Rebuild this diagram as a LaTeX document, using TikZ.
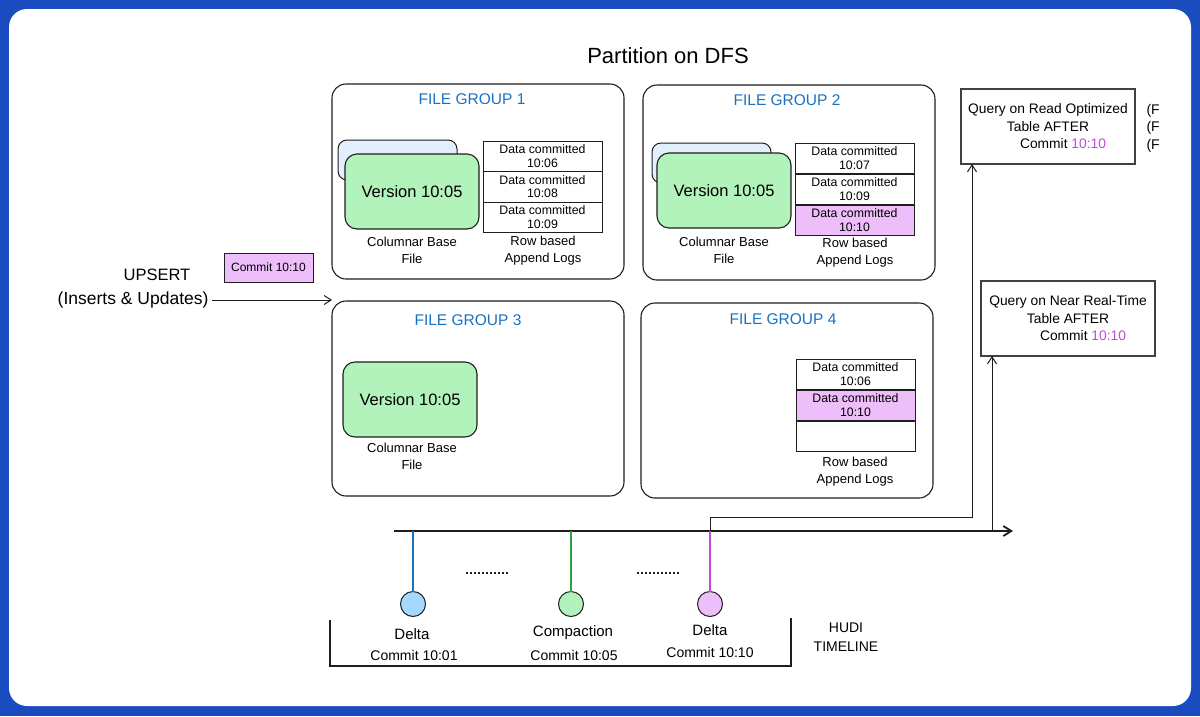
\documentclass[tikz,border=0pt]{standalone}
\usepackage{fontspec}
\setmainfont{Liberation Sans}
\usetikzlibrary{arrows.meta}
\definecolor{frameblue}{HTML}{1A4CBF}
\definecolor{ink}{HTML}{1E1E1E}
\definecolor{fgblue}{HTML}{1971C2}
\definecolor{vgreen}{HTML}{B2F2BB}
\definecolor{ltblue}{HTML}{E3EFFC}
\definecolor{vpurple}{HTML}{EEBEFA}
\definecolor{mag}{HTML}{BE4BDB}
\definecolor{cblue}{HTML}{A5D8FF}
\definecolor{lblue}{HTML}{1971C2}
\definecolor{lgreen}{HTML}{2F9E44}
\begin{document}
\begin{tikzpicture}[x=1pt,y=-1pt,
  base/.style={inner sep=0pt, outer sep=0pt},
  grp/.style={base, draw=ink, line width=1.1pt, rounded corners=14pt, anchor=north west, minimum width=292pt, minimum height=195pt},
  fgt/.style={text=fgblue, font=\fontsize{15.5}{17}\selectfont},
  verbox/.style={base, draw=ink, fill=vgreen, line width=1.1pt, rounded corners=12pt, anchor=north west, minimum width=134pt, minimum height=75pt, font=\fontsize{16.5}{19}\selectfont},
  backbox/.style={base, draw=ink, fill=ltblue, line width=1pt, rounded corners=9pt, anchor=north west, minimum width=119pt, minimum height=40pt},
  logrow/.style={base, draw=ink, fill=white, line width=1pt, anchor=north west, minimum width=119pt, minimum height=30.5pt, align=center, font=\fontsize{12.3}{13.5}\selectfont},
  hl/.style={fill=vpurple},
  lbl/.style={align=center, font=\fontsize{13}{17}\selectfont},
  qbox/.style={base, draw=ink!85, line width=1.2pt, anchor=north west, minimum width=174pt, minimum height=75pt, align=center, font=\fontsize{13.8}{17.5}\selectfont},
  arr/.style={draw=ink, line width=1pt, -{Straight Barb[length=7pt,width=9pt]}},
  dot/.style={base, circle, draw=ink, line width=1pt, minimum size=25pt},
  tl/.style={align=center, font=\fontsize{15}{17}\selectfont},
  tc/.style={align=center, font=\fontsize{14}{16}\selectfont},
  dotsline/.style={draw=ink, line width=1.3pt, dash pattern=on 1.6pt off 2.4pt}
]
% frame
\fill[frameblue] (0,0) rectangle (1200,716);
\fill[white, rounded corners=18pt] (9,9) rectangle (1191,706);
\useasboundingbox (0,0) rectangle (1200,716);

% title
\node[font=\fontsize{22}{24}\selectfont] (title) at (668,56) {Partition on DFS};

% file group 1
\node[grp] (fg1) at (332,84) {};
\node[fgt] (fg1t) at (472,99) {FILE GROUP 1};
\node[backbox] (b1) at (338,140) {};
\node[verbox] (v1) at (345,154) {Version 10:05};
\node[logrow] (l1a) at (483,141) {Data committed\\10:06};
\node[logrow] (l1b) at (483,171.5) {Data committed\\10:08};
\node[logrow] (l1c) at (483,202) {Data committed\\10:09};
\node[lbl] (c1) at (412,250) {Columnar Base\\File};
\node[lbl] (r1) at (543,251) {Row based\\Append Logs};

% file group 2
\node[grp] (fg2) at (643,85) {};
\node[fgt] (fg2t) at (787,100) {FILE GROUP 2};
\node[backbox] (b2) at (652,143) {};
\node[verbox] (v2) at (657,153) {Version 10:05};
\node[logrow] (l2a) at (795,143) {Data committed\\10:07};
\node[logrow] (l2b) at (795,174) {Data committed\\10:09};
\node[logrow,hl] (l2c) at (795,205) {Data committed\\10:10};
\node[lbl] (c2) at (724,250) {Columnar Base\\File};
\node[lbl] (r2) at (855,253) {Row based\\Append Logs};

% file group 3
\node[grp] (fg3) at (332,301) {};
\node[fgt] (fg3t) at (468,320) {FILE GROUP 3};
\node[verbox] (v3) at (343,362) {Version 10:05};
\node[lbl] (c3) at (412,456) {Columnar Base\\File};

% file group 4
\node[grp] (fg4) at (641,303) {};
\node[fgt] (fg4t) at (783,319) {FILE GROUP 4};
\node[logrow] (l4a) at (796,359) {Data committed\\10:06};
\node[logrow,hl] (l4b) at (796,390) {Data committed\\10:10};
\node[logrow] (l4c) at (796,421) {};
\node[lbl] (r4) at (855,472) {Row based\\Append Logs};

% upsert
\node[font=\fontsize{16.5}{18}\selectfont] (ups) at (157,275) {UPSERT};
\node[font=\fontsize{17.5}{19}\selectfont, anchor=east] (ins) at (212,300) {(Inserts \& Updates)};
\node[base, draw=ink, fill=vpurple, line width=1pt, minimum width=89pt, minimum height=29pt, font=\fontsize{12}{13}\selectfont] (cm) at (268.5,267.5) {Commit 10:10};
\draw[arr] (ins.east) -- (ins.east -| fg3.west);

% queries
\node[qbox] (q1) at (961,89) {Query on Read Optimized\\Table AFTER\\\hspace*{30pt}Commit \textcolor{mag}{10:10}};
\node[qbox] (q2) at (981,281) {Query on Near Real-Time\\Table AFTER\\\hspace*{30pt}Commit \textcolor{mag}{10:10}};

% clipped fragments at right edge
\begin{scope}
\clip (1140,80) rectangle (1159,170);
\node[anchor=west, font=\fontsize{14}{17}\selectfont] (f1) at (1143,111) {(F};
\node[anchor=west, font=\fontsize{14}{17}\selectfont] (f2) at (1143,128) {(F};
\node[anchor=west, font=\fontsize{14}{17}\selectfont] (f3) at (1143,146) {(F};
\end{scope}

% timeline
\coordinate (axL) at (394,531);
\coordinate (axR) at (1013,531);
\coordinate (brk) at (972,517);
\coordinate (ax2) at (992,531);
\draw[draw=ink, line width=1.8pt, -{Straight Barb[length=8pt,width=10pt]}] (axL) -- (axR);

\node[dot, fill=cblue] (cB) at (413,604) {};
\node[dot, fill=vgreen] (cG) at (571,604) {};
\node[dot, fill=vpurple] (cP) at (710,604) {};
\draw[lblue, line width=1.2pt] (cB.north) -- (cB.north |- axL);
\draw[lgreen, line width=1.2pt] (cG.north) -- (cG.north |- axL);
\draw[mag, line width=1.2pt] (cP.north) -- (cP.north |- axL);
\draw[draw=ink, line width=1pt] (cP.north |- axL) -- (cP.north |- brk);
\draw[arr] (cP.north |- brk) -- (brk) -- (brk |- q1.south);
\draw[arr] (ax2) -- (ax2 |- q2.south);

\coordinate (d1a) at (466,573);
\coordinate (d1b) at (509,573);
\coordinate (d2a) at (637,573);
\coordinate (d2b) at (680,573);
\draw[dotsline] (d1a) -- (d1b);
\draw[dotsline] (d2a) -- (d2b);

\node[tl] (t1) at (412,634) {Delta};
\node[tc] (t1b) at (414,655) {Commit 10:01};
\node[tl] (t2) at (573,633) {Compaction};
\node[tc] (t2b) at (574,655) {Commit 10:05};
\node[tl] (t3) at (710,630) {Delta};
\node[tc] (t3b) at (710,652) {Commit 10:10};
\node[tc] (hudi) at (846,637) {HUDI\\[3pt]TIMELINE};

\draw[draw=ink, line width=1.1pt] (330,620) -- (330,666) -- (791,666) -- (791,618);
\end{tikzpicture}
\end{document}
